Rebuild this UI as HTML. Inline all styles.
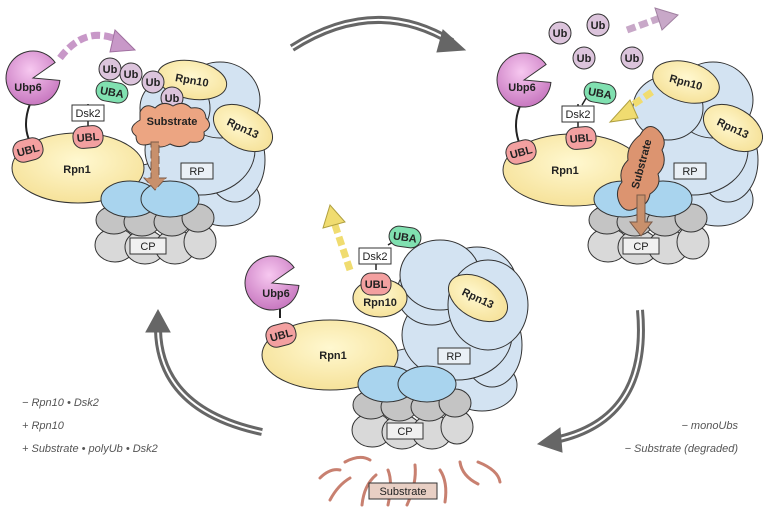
<!DOCTYPE html>
<html><head><meta charset="utf-8"><style>
html,body{margin:0;padding:0;background:#fff}
svg{display:block}
text{font-family:"Liberation Sans",sans-serif}
.b{font-weight:bold;font-size:11px;fill:#222}
.n{font-size:11px;fill:#222}
.cap{font-style:italic;font-size:11px;fill:#555}
</style></head><body>
<svg width="763" height="515" viewBox="0 0 763 515" xmlns="http://www.w3.org/2000/svg">
<defs>
<radialGradient id="gy" cx="50%" cy="40%" r="60%"><stop offset="0" stop-color="#fff8d0"/><stop offset="1" stop-color="#f6e29a"/></radialGradient>
<radialGradient id="gp" cx="45%" cy="35%" r="65%"><stop offset="0" stop-color="#f7c8f0"/><stop offset="1" stop-color="#c878c0"/></radialGradient>
<g id="base" stroke="#333" stroke-width="1">
  <g fill="#d3e3f2">
    <ellipse cx="170" cy="192" rx="62" ry="30"/>
    <ellipse cx="225" cy="200" rx="35" ry="26"/>
    <ellipse cx="235" cy="160" rx="30" ry="42"/>
    <ellipse cx="200" cy="150" rx="55" ry="45"/>
    <ellipse cx="220" cy="100" rx="40" ry="38"/>
    <ellipse cx="175" cy="108" rx="35" ry="32"/>
  </g>
  <g fill="#d9d9d9">
    <ellipse cx="115" cy="245" rx="20" ry="17"/><ellipse cx="145" cy="247" rx="20" ry="17"/>
    <ellipse cx="175" cy="247" rx="20" ry="17"/><ellipse cx="200" cy="242" rx="16" ry="17"/>
  </g>
  <g fill="#c4c4c4">
    <ellipse cx="114" cy="220" rx="18" ry="14"/><ellipse cx="142" cy="222" rx="18" ry="14"/>
    <ellipse cx="172" cy="222" rx="18" ry="14"/><ellipse cx="198" cy="218" rx="16" ry="14"/>
  </g>
</g>
<g id="ring" stroke="#333" stroke-width="1" fill="#a9d4ee">
  <ellipse cx="130" cy="199" rx="29" ry="18"/><ellipse cx="170" cy="199" rx="29" ry="18"/>
</g>
<g id="labels" stroke="#333" stroke-width="1">
  <rect x="181" y="163" width="32" height="16" fill="#eaf0f6"/>
  <rect x="130" y="238" width="36" height="16" fill="#f0f0f0"/>
  <text x="197" y="175" class="n" text-anchor="middle" stroke="none">RP</text>
  <text x="148" y="250" class="n" text-anchor="middle" stroke="none">CP</text>
</g>
<g id="ubp6">
  <path d="M0 0 L22.1 -15.5 A27 27 0 1 0 26.9 2.4 Z" fill="url(#gp)" stroke="#333"/>
</g>
<g id="ubl"><rect x="-15" y="-11" width="30" height="22" rx="10" fill="#f3a0a0" stroke="#333"/><text y="4" class="b" text-anchor="middle">UBL</text></g>
<g id="uba"><rect x="-16" y="-10" width="32" height="20" rx="10" fill="#80e0b0" stroke="#333"/><text y="4" class="b" text-anchor="middle">UBA</text></g>
<g id="dsk"><rect x="-16" y="-8" width="32" height="16" fill="#fff" stroke="#333"/><text y="4" class="n" text-anchor="middle">Dsk2</text></g>
<g id="ub"><circle r="11" fill="#dcc4dc" stroke="#333"/><text y="4" class="b" text-anchor="middle">Ub</text></g>
</defs>

<!-- big arrows -->
<g fill="none">
  <path d="M292 48 Q375 -5 452 42" stroke="#666" stroke-width="8"/>
  <path d="M292 48 Q375 -5 452 42" stroke="#fff" stroke-width="2"/>
  <path d="M443 30 L465 50 L437 52 Z" fill="#666" stroke="#666"/>
  <path d="M640 310 Q650 420 555 440" stroke="#666" stroke-width="8"/>
  <path d="M640 310 Q650 420 555 440" stroke="#fff" stroke-width="2"/>
  <path d="M560 428 L538 444 L562 452 Z" fill="#666" stroke="#666"/>
  <path d="M262 432 Q160 410 158 330" stroke="#666" stroke-width="8"/>
  <path d="M262 432 Q160 410 158 330" stroke="#fff" stroke-width="2"/>
  <path d="M146 332 L158 310 L170 332 Z" fill="#666" stroke="#666"/>
</g>

<!-- TOP LEFT -->
<g>
  <use href="#base"/>
  <path d="M30 104 Q22 125 30 142" fill="none" stroke="#222" stroke-width="2"/>
  <ellipse cx="78" cy="168" rx="66" ry="35" fill="url(#gy)" stroke="#333"/>
  <text x="77" y="173" class="b" text-anchor="middle">Rpn1</text>
  <use href="#ring"/>
  <path d="M88 128 L88 104" stroke="#222" stroke-width="1.5"/>
  <ellipse cx="192" cy="80" rx="35" ry="19" fill="url(#gy)" stroke="#333" transform="rotate(10 192 80)"/>
  <text x="192" y="84" class="b" text-anchor="middle" transform="rotate(10 192 80)">Rpn10</text>
  <ellipse cx="243" cy="128" rx="20" ry="32" fill="url(#gy)" stroke="#333" transform="rotate(-60 243 128)"/>
  <text x="243" y="132" class="b" text-anchor="middle" transform="rotate(25 243 128)">Rpn13</text>
  <use href="#labels"/>
  <g transform="translate(33,78)"><use href="#ubp6"/></g>
  <text x="28" y="91" class="b" text-anchor="middle">Ubp6</text>
  <g transform="translate(28,150) rotate(-15)"><use href="#ubl"/></g>
  <g transform="translate(88,137) rotate(-5)"><use href="#ubl"/></g>
  <use href="#dsk" x="88" y="113"/>
  <g transform="translate(112,92) rotate(10)"><use href="#uba"/></g>
  <use href="#ub" x="110" y="69"/><use href="#ub" x="131" y="74"/><use href="#ub" x="153" y="82"/><use href="#ub" x="172" y="98"/>
  <path d="M140 112 q5 -10 15 -4 q8 -8 18 -2 q10 -6 18 2 q14 -2 15 10 q8 8 -2 14 q2 12 -14 10 q-8 8 -20 2 q-10 6 -20 0 q-14 4 -14 -8 q-10 -8 4 -16 z" fill="#eca582" stroke="#333"/>
  <text x="172" y="125" class="b" text-anchor="middle">Substrate</text>
  <path d="M151 142 L159 142 L159 178 L166 178 L155 190 L144 178 L151 178 Z" fill="#c8906c" stroke="#7a5a48" stroke-dasharray="8 3"/>
  <path d="M60 58 Q85 25 118 40" fill="none" stroke="#c898c8" stroke-width="7" stroke-dasharray="9 4"/>
  <path d="M115 30 L135 50 L110 52 Z" fill="#c898c8" stroke="#a070a0"/>
</g>

<!-- TOP RIGHT -->
<g>
  <g transform="translate(493,0)"><use href="#base"/></g>
  <path d="M520 106 Q512 125 520 145" fill="none" stroke="#222" stroke-width="2"/>
  <ellipse cx="573" cy="170" rx="70" ry="36" fill="url(#gy)" stroke="#333"/>
  <text x="565" y="174" class="b" text-anchor="middle">Rpn1</text>
  <g transform="translate(493,0)"><use href="#ring"/></g>
  <path d="M578 130 L578 104" stroke="#222" stroke-width="1.5"/>
  <path d="M588 95 L582 105" stroke="#222" stroke-width="1.5"/>
  <ellipse cx="686" cy="82" rx="34" ry="20" fill="url(#gy)" stroke="#333" transform="rotate(15 686 82)"/>
  <text x="686" y="86" class="b" text-anchor="middle" transform="rotate(15 686 82)">Rpn10</text>
  <ellipse cx="733" cy="128" rx="20" ry="32" fill="url(#gy)" stroke="#333" transform="rotate(-60 733 128)"/>
  <text x="733" y="132" class="b" text-anchor="middle" transform="rotate(25 733 128)">Rpn13</text>
  <g transform="translate(493,0)"><use href="#labels"/></g>
  <g transform="translate(524,80)"><use href="#ubp6"/></g>
  <text x="522" y="91" class="b" text-anchor="middle">Ubp6</text>
  <g transform="translate(521,152) rotate(-15)"><use href="#ubl"/></g>
  <g transform="translate(581,138) rotate(-5)"><use href="#ubl"/></g>
  <use href="#dsk" x="578" y="114"/>
  <g transform="translate(600,93) rotate(10)"><use href="#uba"/></g>
  <use href="#ub" x="560" y="33"/><use href="#ub" x="598" y="25"/><use href="#ub" x="584" y="58"/><use href="#ub" x="632" y="58"/>
  <path d="M627 30 L660 18" stroke="#c8a8c8" stroke-width="7" stroke-dasharray="9 4"/>
  <path d="M655 8 L678 15 L662 30 Z" fill="#c8a8c8" stroke="#a080a0"/>
  <path d="M652 92 L625 110" stroke="#f0dc70" stroke-width="7" stroke-dasharray="9 4"/>
  <path d="M630 100 L610 122 L638 118 Z" fill="#f0dc70" stroke="#b0a040"/>
  <path d="M640 135 q8 -14 18 -5 q10 10 4 20 q6 14 -4 24 q4 12 -8 20 q-2 12 -14 14 q-10 6 -16 -4 q-6 -12 2 -22 q-4 -12 6 -22 q-2 -14 12 -25 z" fill="#dc9470" stroke="#333"/>
  <text x="645" y="165" class="b" text-anchor="middle" transform="rotate(-75 645 165)">Substrate</text>
  <path d="M637 195 L645 195 L645 222 L652 222 L641 236 L630 222 L637 222 Z" fill="#c8906c" stroke="#7a5a48"/>
</g>

<!-- BOTTOM -->
<g>
  <g transform="translate(257,185)"><use href="#base"/></g>
  <ellipse cx="440" cy="275" rx="40" ry="35" fill="#d3e3f2" stroke="#333"/>
  <ellipse cx="488" cy="305" rx="40" ry="45" fill="#d3e3f2" stroke="#333"/>
  <path d="M280 318 L280 300" stroke="#222" stroke-width="2"/>
  <ellipse cx="330" cy="355" rx="68" ry="35" fill="url(#gy)" stroke="#333"/>
  <text x="333" y="359" class="b" text-anchor="middle">Rpn1</text>
  <g transform="translate(257,185)"><use href="#ring"/></g>
  <ellipse cx="478" cy="298" rx="20" ry="32" fill="url(#gy)" stroke="#333" transform="rotate(-60 478 298)"/>
  <text x="478" y="302" class="b" text-anchor="middle" transform="rotate(25 478 298)">Rpn13</text>
  <g transform="translate(257,185)"><use href="#labels"/></g>
  <g transform="translate(272,283)"><use href="#ubp6"/></g>
  <text x="276" y="297" class="b" text-anchor="middle">Ubp6</text>
  <g transform="translate(281,335) rotate(-15)"><use href="#ubl"/></g>
  <ellipse cx="380" cy="298" rx="27" ry="19" fill="url(#gy)" stroke="#333"/>
  <text x="380" y="306" class="b" text-anchor="middle">Rpn10</text>
  <g transform="translate(376,284)"><use href="#ubl"/></g>
  <path d="M376 270 L376 262" stroke="#222" stroke-width="1.5"/>
  <path d="M388 245 L396 240" stroke="#222" stroke-width="1.5"/>
  <use href="#dsk" x="375" y="256"/>
  <g transform="translate(405,237) rotate(8)"><use href="#uba"/></g>
  <path d="M350 270 L335 225" stroke="#f0dc70" stroke-width="7" stroke-dasharray="9 4"/>
  <path d="M323 228 L330 205 L345 222 Z" fill="#f0dc70" stroke="#b0a040"/>
  <g fill="none" stroke="#c88070" stroke-width="3" stroke-linecap="round">
    <path d="M320 478 q10 -10 20 -8"/><path d="M345 462 q15 -8 25 -2"/><path d="M330 500 q8 -15 20 -22"/>
    <path d="M362 505 q2 -20 14 -30"/><path d="M388 470 q5 12 0 35"/><path d="M415 465 q2 18 -8 40"/>
    <path d="M440 470 q8 12 5 32"/><path d="M460 462 q2 14 18 22"/><path d="M478 462 q20 8 22 20"/>
  </g>
  <rect x="369" y="483" width="68" height="16" fill="#e8cfc4" stroke="#333"/>
  <text x="403" y="495" class="n" text-anchor="middle">Substrate</text>
</g>

<text x="22" y="406" class="cap">− Rpn10 • Dsk2</text>
<text x="22" y="429" class="cap">+ Rpn10</text>
<text x="22" y="452" class="cap">+ Substrate • polyUb • Dsk2</text>
<text x="738" y="429" class="cap" text-anchor="end">− monoUbs</text>
<text x="738" y="452" class="cap" text-anchor="end">− Substrate (degraded)</text>
</svg>
</body></html>
